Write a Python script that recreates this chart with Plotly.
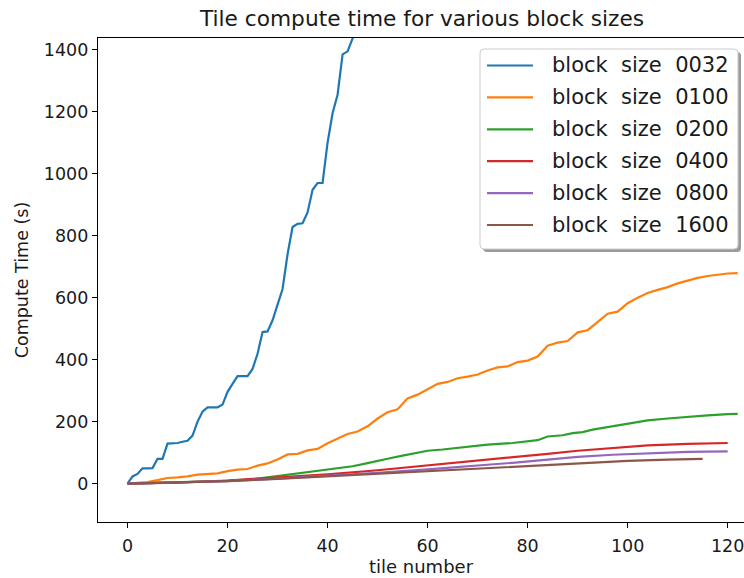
import plotly.graph_objects as go

# Compute time per tile (seconds) for each block size
tiles_0032 = list(range(0, 48))
time_0032 = [0, 23, 31, 49, 49, 50, 80, 80, 129, 130, 131, 135, 138, 155, 200, 232,
             246, 246, 246, 255, 296, 322, 347, 347, 347, 370, 419, 489, 491, 527,
             578, 628, 740, 828, 838, 840, 875, 948, 970, 970, 1100, 1195, 1255,
             1385, 1395, 1435, 1480, 1520]

tiles_0100 = list(range(0, 123, 2))
time_0100 = [0, 3, 5, 11, 18, 20, 23, 29, 31, 33, 40, 45, 47, 58, 65, 78, 94, 96,
             107, 112, 130, 146, 160, 168, 185, 210, 230, 240, 275, 287, 305, 322,
             328, 340, 345, 352, 365, 375, 378, 392, 397, 410, 445, 455, 460, 488,
             495, 522, 548, 555, 582, 600, 615, 625, 634, 646, 655, 664, 670, 675,
             678, 679]

tiles_0200 = [0, 5, 10, 15, 20, 25, 30, 35, 40, 45, 48, 50, 52, 55, 58, 60, 63, 67,
              72, 77, 80, 82, 84, 87, 89, 91, 93, 97, 101, 104, 108, 112, 116, 120, 122]
time_0200 = [0, 2, 4, 6, 9, 14, 25, 35, 47, 56, 66, 72, 80, 90, 100, 106, 110, 118,
             126, 131, 137, 140, 152, 156, 163, 166, 174, 185, 198, 204, 210, 216,
             220, 224, 225]

tiles_0400 = [0, 10, 20, 30, 40, 50, 60, 64, 70, 77, 84, 90, 97, 104, 112, 120]
time_0400 = [0, 3, 10, 20, 30, 43, 58, 66, 75, 85, 96, 106, 115, 123, 128, 131]

tiles_0800 = [0, 10, 20, 30, 40, 50, 60, 70, 77, 84, 90, 97, 104, 112, 120]
time_0800 = [0, 3, 8, 16, 25, 35, 46, 57, 67, 77, 86, 93, 98, 102, 104]

tiles_1600 = [0, 10, 20, 30, 40, 50, 60, 70, 77, 85, 92, 100, 108, 115]
time_1600 = [0, 3, 8, 15, 23, 31, 40, 47, 54, 61, 67, 73, 77, 80]

block_labels = ["block\u00a0 size\u00a0 0032", "block\u00a0 size\u00a0 0100",
                "block\u00a0 size\u00a0 0200", "block\u00a0 size\u00a0 0400",
                "block\u00a0 size\u00a0 0800", "block\u00a0 size\u00a0 1600"]
colors = ["#1f77b4", "#ff7f0e", "#2ca02c", "#d62728", "#9467bd", "#8c564b"]
series_x = [tiles_0032, tiles_0100, tiles_0200, tiles_0400, tiles_0800, tiles_1600]
series_y = [time_0032, time_0100, time_0200, time_0400, time_0800, time_1600]

FONT = "DejaVu Sans"
TEXT = "#1a1a1a"
W, H = 744, 578
ML, MR, MT, MB = 98, 0, 38, 56
pw, ph = W - ML - MR, H - MT - MB


def px_x(p):
    return (p - ML) / pw


def px_y(p):
    return (H - MB - p) / ph


fig = go.Figure()
for name, xs, ys, color in zip(block_labels, series_x, series_y, colors):
    fig.add_trace(go.Scatter(x=xs, y=ys, mode="lines", name=name,
                             line=dict(color=color, width=2.2), showlegend=False))

# legend box: shadow, rounded frame, line samples and labels
def rounded_rect(x0, y0, x1, y1, r):
    pts = [
        f"M{px_x(x0 + r)},{px_y(y0)}",
        f"L{px_x(x1 - r)},{px_y(y0)}",
        f"Q{px_x(x1)},{px_y(y0)} {px_x(x1)},{px_y(y0 + r)}",
        f"L{px_x(x1)},{px_y(y1 - r)}",
        f"Q{px_x(x1)},{px_y(y1)} {px_x(x1 - r)},{px_y(y1)}",
        f"L{px_x(x0 + r)},{px_y(y1)}",
        f"Q{px_x(x0)},{px_y(y1)} {px_x(x0)},{px_y(y1 - r)}",
        f"L{px_x(x0)},{px_y(y0 + r)}",
        f"Q{px_x(x0)},{px_y(y0)} {px_x(x0 + r)},{px_y(y0)}",
        "Z",
    ]
    return " ".join(pts)


LX0, LY0, LX1, LY1 = 480, 49, 738, 249
fig.add_shape(type="path", xref="paper", yref="paper", layer="above",
              path=rounded_rect(LX0 + 3, LY0 + 3, LX1 + 3, LY1 + 3, 4),
              fillcolor="#9a9a9a", line=dict(width=0))
fig.add_shape(type="path", xref="paper", yref="paper", layer="above",
              path=rounded_rect(LX0, LY0, LX1, LY1, 4),
              fillcolor="white", line=dict(color="#cccccc", width=1))

row0, row_step = 65.5, 31.9
for i, (name, color) in enumerate(zip(block_labels, colors)):
    ry = row0 + i * row_step
    fig.add_shape(type="line", xref="paper", yref="paper", layer="above",
                  x0=px_x(487), x1=px_x(533), y0=px_y(ry), y1=px_y(ry),
                  line=dict(color=color, width=2.2))
    fig.add_annotation(x=px_x(550), y=px_y(ry), xref="paper", yref="paper",
                       text=name, showarrow=False, xanchor="left", yanchor="middle",
                       font=dict(family=FONT, size=21, color=TEXT))

axis_common = dict(
    showgrid=False, zeroline=False, showline=True, linecolor="black", linewidth=1.2,
    ticks="outside", ticklen=5, tickwidth=1.2, tickcolor="black",
    tickfont=dict(family=FONT, size=17.5, color=TEXT),
    ticklabeloverflow="allow",
)

fig.update_layout(
    width=W, height=H,
    margin=dict(l=ML, r=MR, t=MT, b=MB),
    paper_bgcolor="white", plot_bgcolor="white",
    title=dict(text="Tile compute time for various block sizes",
               font=dict(family=FONT, size=21.7, color=TEXT),
               x=422 / W, xref="container", xanchor="center",
               y=1 - 18 / H, yref="container", yanchor="middle"),
    xaxis=dict(axis_common, range=[-5.9, 123.26], tickvals=list(range(0, 121, 20)),
               mirror=True, ticklabelstandoff=3,
               title=dict(text="tile number", font=dict(family=FONT, size=18, color=TEXT),
                          standoff=2)),
    yaxis=dict(axis_common, range=[-124, 1438], tickvals=list(range(0, 1401, 200)),
               title=dict(text="Compute Time (s)", font=dict(family=FONT, size=17.5, color=TEXT),
                          standoff=10)),
    showlegend=False,
)

fig.write_html("out.html")
